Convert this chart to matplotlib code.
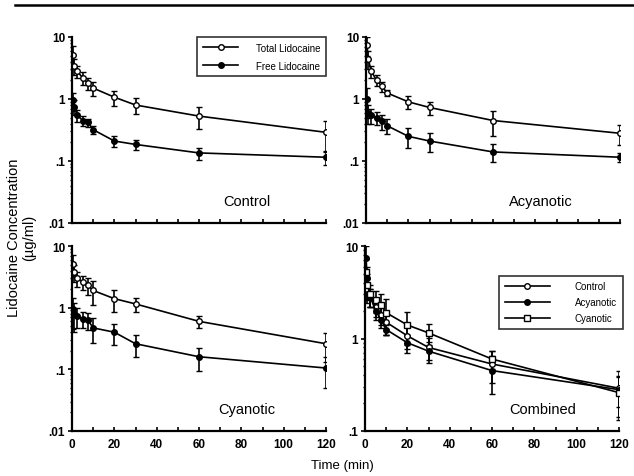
"""Lidocaine plasma concentration vs time, four panels."""
import matplotlib
matplotlib.use("Agg")
import matplotlib.pyplot as plt
from matplotlib.lines import Line2D
from matplotlib.ticker import FixedLocator, FixedFormatter, LogLocator, NullFormatter

plt.rcParams["font.family"] = ["Liberation Sans", "DejaVu Sans"]

times = [0.5, 1, 2.5, 5, 7.5, 10, 20, 30, 60, 120]

control_total = [5.2, 3.4, 2.8, 2.2, 1.8, 1.5, 1.07, 0.8, 0.53, 0.29]
control_total_sd = [2.0, 1.0, 0.6, 0.5, 0.4, 0.4, 0.3, 0.22, 0.2, 0.15]
control_free = [0.95, 0.75, 0.55, 0.45, 0.42, 0.32, 0.21, 0.185, 0.135, 0.115]
control_free_sd = [0.3, 0.2, 0.12, 0.08, 0.06, 0.05, 0.04, 0.035, 0.03, 0.03]

acyan_total = [7.5, 4.5, 2.8, 2.0, 1.6, 1.25, 0.9, 0.73, 0.45, 0.28]
acyan_total_sd = [2.5, 1.5, 0.6, 0.4, 0.3, 0.15, 0.2, 0.18, 0.2, 0.1]
acyan_free = [1.0, 0.6, 0.55, 0.5, 0.44, 0.37, 0.25, 0.21, 0.14, 0.115]
acyan_free_sd = [0.5, 0.2, 0.15, 0.12, 0.12, 0.1, 0.09, 0.07, 0.045, 0.02]

cyan_total = [5.2, 3.8, 3.0, 2.6, 2.3, 1.9, 1.4, 1.15, 0.6, 0.26]
cyan_total_sd = [2.0, 1.2, 0.8, 0.7, 0.7, 0.8, 0.55, 0.3, 0.13, 0.13]
cyan_free = [0.95, 0.8, 0.72, 0.66, 0.63, 0.47, 0.40, 0.26, 0.16, 0.105]
cyan_free_sd = [0.5, 0.4, 0.25, 0.2, 0.2, 0.2, 0.15, 0.1, 0.065, 0.055]

x_ticks = [0, 20, 40, 60, 80, 100, 120]
y_ticks = [0.01, 0.1, 1, 10]
y_tick_labels = [".01", ".1", "1", "10"]

W, H = 634, 477
fig = plt.figure(figsize=(W / 100, H / 100), dpi=100)


def make_axes(left, top, right, bottom):
    return fig.add_axes([left / W, 1 - bottom / H, (right - left) / W, (bottom - top) / H])


def style_axes(ax, ymin, show_x):
    ax.set_yscale("log")
    ax.set_xlim(0, 120)
    ax.set_ylim(ymin, 10)
    for side in ("top", "right"):
        ax.spines[side].set_visible(False)
    for side in ("left", "bottom"):
        ax.spines[side].set_linewidth(1.6)
    ax.xaxis.set_major_locator(FixedLocator(x_ticks))
    ax.xaxis.set_minor_locator(FixedLocator(list(range(10, 120, 20))))
    ax.tick_params(axis="x", which="both", direction="in", length=3, width=1.2,
                   labelsize=8.5, pad=5)
    ticks = [t for t in y_ticks if t >= ymin]
    labels = [l for t, l in zip(y_ticks, y_tick_labels) if t >= ymin]
    ax.yaxis.set_major_locator(FixedLocator(ticks))
    ax.yaxis.set_major_formatter(FixedFormatter(labels))
    ax.yaxis.set_minor_locator(LogLocator(base=10, subs=range(2, 10)))
    ax.yaxis.set_minor_formatter(NullFormatter())
    ax.tick_params(axis="y", which="major", direction="out", length=3, width=1.2,
                   labelsize=8.5, pad=2)
    ax.tick_params(axis="y", which="minor", direction="out", length=1.5, width=1.0)
    for lab in ax.get_xticklabels() + ax.get_yticklabels():
        lab.set_fontweight("bold")
    if not show_x:
        ax.set_xticklabels([])


def series(ax, y, sd, marker, face):
    ax.errorbar(times, y, yerr=sd, color="black", lw=1.2, elinewidth=1.2, capsize=2,
                capthick=1.2, marker=marker, ms=4, mfc=face, mec="black", mew=1.0)


def legend_handle(marker, face):
    return Line2D([], [], color="black", lw=1.2, marker=marker, ms=4, mfc=face,
                  mec="black", mew=1.0)


def add_legend(ax, handles, labels, anchor, spacing, hlen, tpad):
    leg = ax.legend(handles, labels, loc="upper right", bbox_to_anchor=anchor,
                    fontsize=7, frameon=True, fancybox=False, edgecolor="black",
                    handlelength=hlen, handletextpad=tpad, borderpad=0.6,
                    labelspacing=spacing, borderaxespad=0)
    leg.get_frame().set_linewidth(1.2)


panels = [
    ((72, 38, 326, 224), "Control", control_total, control_total_sd, control_free, control_free_sd),
    ((366, 38, 620, 224), "Acyanotic", acyan_total, acyan_total_sd, acyan_free, acyan_free_sd),
    ((72, 247, 326, 432), "Cyanotic", cyan_total, cyan_total_sd, cyan_free, cyan_free_sd),
]

for i, (box, name, tot, tot_sd, free, free_sd) in enumerate(panels):
    ax = make_axes(*box)
    series(ax, tot, tot_sd, "o", "white")
    series(ax, free, free_sd, "o", "black")
    style_axes(ax, 0.01, show_x=(i == 2))
    ax.text(0.69, 0.12, name, transform=ax.transAxes, ha="center", va="center", fontsize=10.5)
    if i == 0:
        add_legend(ax, [legend_handle("o", "white"), legend_handle("o", "black")],
                   ["Total Lidocaine", "Free Lidocaine"], (1.0, 1.0), 0.8, 3.6, 1.8)

ax = make_axes(365, 247, 619, 432)
series(ax, control_total, control_total_sd, "o", "white")
series(ax, acyan_total, acyan_total_sd, "o", "black")
series(ax, cyan_total, cyan_total_sd, "s", "white")
style_axes(ax, 0.1, show_x=True)
ax.text(0.7, 0.12, "Combined", transform=ax.transAxes, ha="center", va="center", fontsize=10.5)
add_legend(ax, [legend_handle("o", "white"), legend_handle("o", "black"),
                legend_handle("s", "white")],
           ["Control", "Acyanotic", "Cyanotic"], (1.015, 0.84), 0.6, 4.6, 2.6)

fig.text(22 / W, 1 - 238 / H, "Lidocaine Concentration\n(\u00b5g/ml)", rotation=90,
         ha="center", va="center", fontsize=10.5, linespacing=1.1)
fig.text(342 / W, 1 - 466 / H, "Time (min)", ha="center", va="center", fontsize=9.5)

fig.add_artist(Line2D([15 / W, 1.0], [1 - 6 / H, 1 - 6 / H], color="black", lw=1.8,
                      transform=fig.transFigure))

fig.savefig("out.png", dpi=100)
